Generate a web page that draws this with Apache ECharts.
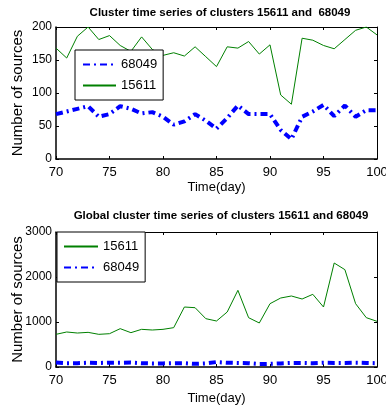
<!DOCTYPE html>
<html>
<head>
<meta charset="utf-8">
<script src="https://cdn.jsdelivr.net/npm/echarts@6/dist/echarts.min.js"></script>
<style>
  html, body { margin: 0; padding: 0; background: #fff; }
  #main { width: 386px; height: 415px; }
</style>
</head>
<body>
<div id="main"></div>
<script>
var days = [70, 71, 72, 73, 74, 75, 76, 77, 78, 79, 80, 81, 82, 83, 84, 85,
            86, 87, 88, 89, 90, 91, 92, 93, 94, 95, 96, 97, 98, 99, 100];

// cluster time series (top)
var local15611 = [168, 153, 186, 200, 181, 187, 172, 163, 185, 166, 157, 161, 156, 170, 155, 140,
                  170, 168, 178, 159, 173, 97, 83, 183, 180, 172, 167, 181, 195, 200, 188];
var local68049 = [68, 72, 76, 80, 64, 68, 80, 76, 69, 71, 64, 52, 57, 68, 58, 46,
                  62, 81, 68, 68, 68, 44, 30, 64, 72, 82, 65, 81, 64, 74, 74];

// global cluster time series (bottom)
var global15611 = [726, 778, 755, 770, 726, 740, 852, 763, 837, 822, 837, 874, 1333, 1318, 1074, 1022,
                   1222, 1704, 1096, 978, 1407, 1533, 1578, 1511, 1615, 1333, 2311, 2163, 1407, 1096, 1015];
var global68049 = [100, 85, 85, 95, 90, 95, 95, 100, 85, 80, 80, 85, 85, 70, 80, 110,
                   95, 90, 85, 65, 70, 80, 90, 90, 85, 95, 90, 90, 95, 90, 85];

function pairs(vals) {
  return days.map(function (d, i) { return [d, vals[i]]; });
}

var font = '"Liberation Sans Narrow", "Arial Narrow", "Liberation Sans", Arial, sans-serif';
var greenLine = { color: '#008000', width: 1 };
var blueLine = { color: '#0000ff', width: 4, type: [7, 4, 2, 4] };

function bottomX(gi, gap) {
  return {
    type: 'value', gridIndex: gi, min: 70, max: 100, interval: 5,
    name: 'Time(day)', nameLocation: 'middle', nameGap: gap,
    nameTextStyle: { color: '#000', fontSize: 13, fontFamily: font },
    axisLine: { onZero: false, lineStyle: { color: '#000', width: 1.5 } },
    axisTick: { inside: true, length: 3, lineStyle: { color: '#000' } },
    axisLabel: { color: '#000', fontSize: 13, fontFamily: font, margin: 7 },
    splitLine: { show: false }
  };
}
function topX(gi) {
  return {
    type: 'value', gridIndex: gi, position: 'top', min: 70, max: 100, interval: 5,
    axisLine: { onZero: false, lineStyle: { color: '#000', width: 1 } },
    axisTick: { inside: true, length: 3, lineStyle: { color: '#000' } },
    axisLabel: { show: false }, splitLine: { show: false }
  };
}
function leftY(gi, max, step) {
  return {
    type: 'value', gridIndex: gi, min: 0, max: max, interval: step,
    name: 'Number of sources', nameLocation: 'middle', nameGap: 31, nameMoveOverlap: false,
    nameTextStyle: { color: '#000', fontSize: 15, fontFamily: font },
    axisLine: { show: true, onZero: false, lineStyle: { color: '#000', width: 1.5 } },
    axisTick: { show: true, inside: true, length: 3, lineStyle: { color: '#000' } },
    axisLabel: { color: '#000', fontSize: 12, fontFamily: font, margin: 4,
                 formatter: function (v) { return String(v); } },
    splitLine: { show: false }
  };
}
function rightY(gi, max, step) {
  return {
    type: 'value', gridIndex: gi, position: 'right', min: 0, max: max, interval: step,
    axisLine: { show: true, onZero: false, lineStyle: { color: '#000', width: 1 } },
    axisTick: { show: true, inside: true, length: 3, lineStyle: { color: '#000' } },
    axisLabel: { show: false }, splitLine: { show: false }
  };
}

var chart = echarts.init(document.getElementById('main'));
chart.setOption({
  animation: false,
  backgroundColor: '#fff',
  title: [
    { text: 'Cluster time series of clusters 15611 and  68049', left: 215, top: 2, textAlign: 'center',
      textStyle: { color: '#000', fontSize: 11.5, fontWeight: 'bold', fontFamily: font } },
    { text: 'Global cluster time series of clusters 15611 and 68049', left: 216, top: 205, textAlign: 'center',
      textStyle: { color: '#000', fontSize: 11.5, fontWeight: 'bold', fontFamily: font } }
  ],
  grid: [
    { left: 56, right: 9, top: 27, height: 132, outerBoundsMode: 'none' },
    { left: 56, right: 9, top: 232, height: 135, outerBoundsMode: 'none' }
  ],
  legend: [
    { orient: 'vertical', left: 75, top: 50, data: ['68049', '15611'],
      backgroundColor: '#fff', borderColor: '#000', borderWidth: 1,
      padding: [8, 6, 8, 7], itemGap: 8, itemWidth: 33, itemHeight: 14,
      itemStyle: { opacity: 0 },
      textStyle: { color: '#000', fontSize: 13, fontFamily: font } },
    { orient: 'vertical', left: 57, top: 232, data: ['15611', '68049'],
      backgroundColor: '#fff', borderColor: '#000', borderWidth: 1,
      padding: [8, 6, 8, 6], itemGap: 8, itemWidth: 34, itemHeight: 14,
      itemStyle: { opacity: 0 },
      textStyle: { color: '#000', fontSize: 13, fontFamily: font } }
  ],
  xAxis: [bottomX(0, 22), topX(0), bottomX(1, 25), topX(1)],
  yAxis: [leftY(0, 200, 50), rightY(0, 200, 50), leftY(1, 3000, 1000), rightY(1, 3000, 1000)],
  series: [
    { name: '15611', type: 'line', xAxisIndex: 0, yAxisIndex: 0, data: pairs(local15611),
      symbol: 'none', lineStyle: greenLine, itemStyle: { color: '#008000' } },
    { name: '68049', type: 'line', xAxisIndex: 0, yAxisIndex: 0, data: pairs(local68049),
      symbol: 'none', lineStyle: blueLine, itemStyle: { color: '#0000ff' } },
    { name: '15611', type: 'line', xAxisIndex: 2, yAxisIndex: 2, data: pairs(global15611),
      symbol: 'none', lineStyle: greenLine, itemStyle: { color: '#008000' } },
    { name: '68049', type: 'line', xAxisIndex: 2, yAxisIndex: 2, data: pairs(global68049),
      symbol: 'none', lineStyle: blueLine, itemStyle: { color: '#0000ff' } }
  ]
});
</script>
</body>
</html>
